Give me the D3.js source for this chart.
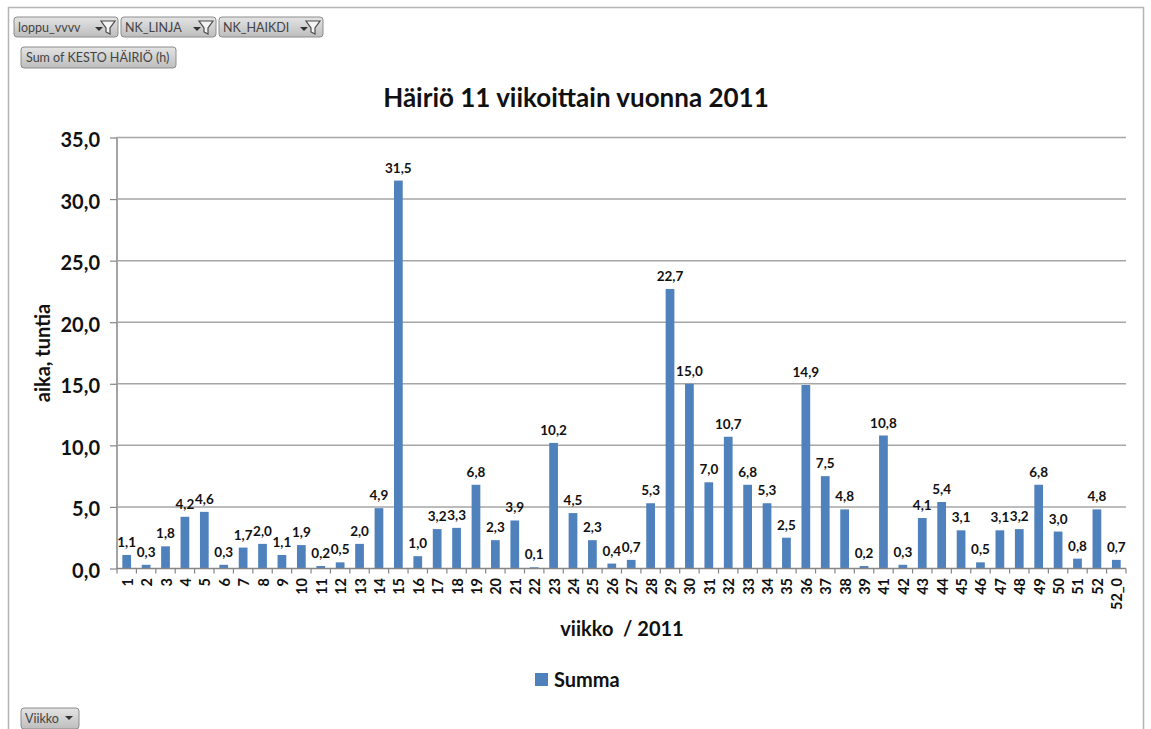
<!DOCTYPE html>
<html>
<head>
<meta charset="utf-8">
<script src="https://cdn.jsdelivr.net/npm/d3@7/dist/d3.min.js"></script>
<style>
html,body{margin:0;padding:0;background:#fff;}
svg{display:block;}
text{font-family:Lato,"Open Sans",sans-serif;}
</style>
</head>
<body>
<svg id="chart" width="1151" height="729"></svg>
<script>
// Weekly disruption hours; week 40 has no row in the pivot table.
const weeks = ["1","2","3","4","5","6","7","8","9","10","11","12","13","14","15","16","17","18","19","20","21","22","23","24","25","26","27","28","29","30","31","32","33","34","35","36","37","38","39","41","42","43","44","45","46","47","48","49","50","51","52","52_0"];
const hours = [1.1,0.3,1.8,4.2,4.6,0.3,1.7,2.0,1.1,1.9,0.2,0.5,2.0,4.9,31.5,1.0,3.2,3.3,6.8,2.3,3.9,0.1,10.2,4.5,2.3,0.4,0.7,5.3,22.7,15.0,7.0,10.7,6.8,5.3,2.5,14.9,7.5,4.8,0.2,10.8,0.3,4.1,5.4,3.1,0.5,3.1,3.2,6.8,3.0,0.8,4.8,0.7];
const yTicks = [0,5,10,15,20,25,30,35];
const pageFilters = ["loppu_vvvv","NK_LINJA","NK_HAIKDI"];
const filterLeft = [14,121,219];
const filterRight = [118,216,323];

const BLUE = "#4f81bd", GRID = "#a6a6a6", AXIS = "#868686", INK = "#111";
const svg = d3.select("#chart");
const fi = d3.format(".1f");
const comma = v => fi(v).replace(".", ",");

const plot = {left:117, right:1126, top:137.5, bottom:568.5};
const x = d3.scaleBand().domain(weeks).range([plot.left, plot.right]).paddingInner(0.55).paddingOuter(0.275);
const slot = d3.scaleBand().domain(weeks).range([plot.left, plot.right]);
const y = d3.scaleLinear().domain([0,35]).range([plot.bottom, plot.top]);

// Worksheet frame around the pivot chart
svg.append("path")
  .attr("d","M8.5,729V7.5H1143.5V729")
  .attr("fill","none").attr("stroke","#b5b5b5").attr("stroke-width",1.5);

// Pivot field buttons
const defs = svg.append("defs");
const grad = defs.append("linearGradient").attr("id","btn").attr("x1",0).attr("x2",0).attr("y1",0).attr("y2",1);
grad.append("stop").attr("offset",0).attr("stop-color","#e4e4e4");
grad.append("stop").attr("offset",1).attr("stop-color","#bdbdbd");

function button(x0, x1, y0, y1, label) {
  const g = svg.append("g");
  g.append("rect").attr("x",x0).attr("y",y0).attr("width",x1-x0).attr("height",y1-y0).attr("rx",3)
    .attr("fill","url(#btn)").attr("stroke","#8c8c8c").attr("stroke-width",1);
  g.append("text").attr("x",x0+(label.length>12?5:4)).attr("y",(y0+y1)/2+4.5)
    .attr("font-size",12.5).attr("fill","#444").text(label);
  return g;
}
function dropArrow(g, cx, cy) {
  g.append("path").attr("d",`M${cx-4},${cy-2}h8l-4,4z`).attr("fill","#333");
}
function funnel(g, cx, cy) {
  g.append("path").attr("d",`M${cx-7},${cy-6}h14l-5,7v6l-4,-2v-4z`)
    .attr("fill","#f4f4f4").attr("stroke","#4a4a4a").attr("stroke-width",1.2);
}
pageFilters.forEach((name,i) => {
  const g = button(filterLeft[i], filterRight[i], 17, 37, name);
  dropArrow(g, filterRight[i]-19, 29);
  funnel(g, filterRight[i]-10, 27);
});
button(21, 176, 47, 68, "Sum of KESTO HÄIRIÖ (h)");
dropArrow(button(21, 79, 708, 729, "Viikko"), 69, 718);

// Title
svg.append("text").attr("x",576).attr("y",107).attr("text-anchor","middle")
  .attr("font-size",26).attr("font-weight",700).attr("fill",INK).text("Häiriö 11 viikoittain vuonna 2011");

// Value axis with gridlines
const yAxis = d3.axisLeft(y).tickValues(yTicks).tickSize(7).tickPadding(10).tickFormat(comma);
const yG = svg.append("g").attr("transform",`translate(${plot.left},0)`).call(yAxis);
yG.select(".domain").attr("stroke",AXIS).attr("stroke-width",1.5).attr("d",`M0,${plot.top}V${plot.bottom}`);
yG.selectAll(".tick line").attr("stroke",AXIS).attr("stroke-width",1.2);
yG.selectAll(".tick text").attr("font-size",20).attr("font-weight",700).attr("fill",INK)
  .attr("font-family","Lato,sans-serif").attr("dy","0.45em");

svg.append("g").selectAll("line").data(yTicks.slice(1)).join("line")
  .attr("x1",plot.left).attr("x2",plot.right)
  .attr("y1",d=>y(d)).attr("y2",d=>y(d))
  .attr("stroke",GRID).attr("stroke-width",1.5);

// Bars
svg.append("g").selectAll("rect").data(weeks).join("rect")
  .attr("x",d=>x(d)).attr("width",x.bandwidth())
  .attr("y",(d,i)=>y(hours[i])).attr("height",(d,i)=>y(0)-y(hours[i]))
  .attr("fill",BLUE);

// Category axis; ticks sit on the slot boundaries
svg.append("line").attr("x1",plot.left).attr("x2",plot.right)
  .attr("y1",plot.bottom).attr("y2",plot.bottom).attr("stroke",AXIS).attr("stroke-width",1.5);
svg.append("g").selectAll("line").data(weeks.concat("end")).join("line")
  .attr("x1",(d,i)=>plot.left+i*slot.step()).attr("x2",(d,i)=>plot.left+i*slot.step())
  .attr("y1",plot.bottom).attr("y2",plot.bottom+5)
  .attr("stroke",AXIS).attr("stroke-width",1.2);
svg.append("g").selectAll("text").data(weeks).join("text")
  .attr("transform",d=>`translate(${slot(d)+slot.bandwidth()/2+6},578) rotate(-90)`)
  .attr("text-anchor","end").attr("font-size",14.5).attr("font-weight",700).attr("fill",INK)
  .text(d=>d);

// Value labels above the bars
svg.append("g").selectAll("text").data(weeks).join("text")
  .attr("x",d=>slot(d)+slot.bandwidth()/2)
  .attr("y",(d,i)=>y(hours[i])-8)
  .attr("text-anchor","middle").attr("font-size",13.5).attr("font-weight",700).attr("fill",INK)
  .text((d,i)=>comma(hours[i]));

// Axis titles
svg.append("text").attr("transform","translate(50,353) rotate(-90)").attr("text-anchor","middle")
  .attr("font-size",20).attr("font-weight",700).attr("fill",INK).text("aika, tuntia");
svg.append("text").attr("x",622).attr("y",636).attr("text-anchor","middle").attr("xml:space","preserve")
  .attr("font-size",20).attr("font-weight",700).attr("fill",INK).text("viikko  / 2011");

// Legend
svg.append("rect").attr("x",535).attr("y",673).attr("width",13).attr("height",13).attr("fill",BLUE);
svg.append("text").attr("x",554).attr("y",687).attr("font-size",20).attr("font-weight",700).attr("fill",INK).text("Summa");
</script>
</body>
</html>
